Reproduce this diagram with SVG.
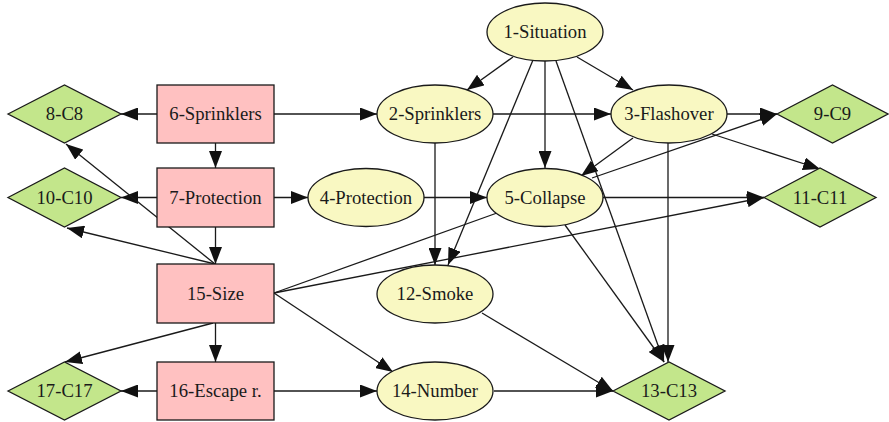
<svg xmlns="http://www.w3.org/2000/svg" width="889" height="422" viewBox="0 0 889 422">
<style>
.rect{fill:#ffc1c1;stroke:#1a1a1a;stroke-width:1.3}
.ell{fill:#f9f8c2;stroke:#1a1a1a;stroke-width:1.3}
.dia{fill:#c3e68b;stroke:#1a1a1a;stroke-width:1.3}
.t{font-size:18.7px;fill:#1a1a1a;text-anchor:middle}
.e{stroke:#1a1a1a;stroke-width:1.3;fill:none}
.a{marker-end:url(#ah)}
</style>
<defs>
<marker id="ah" viewBox="0 0 17 13" refX="17" refY="6.5" markerWidth="17" markerHeight="13" markerUnits="userSpaceOnUse" orient="auto">
<path d="M0,0 L17,6.5 L0,13 z" fill="#111"/>
</marker>
</defs>
<rect width="889" height="422" fill="#fff"/>
<g id="edges">
<line class="e a" x1="513" y1="57" x2="467" y2="90"/>
<line class="e a" x1="577" y1="57" x2="633" y2="90"/>
<line class="e a" x1="545" y1="61" x2="545" y2="168"/>
<line class="e a" x1="533" y1="60" x2="448" y2="265"/>
<line class="e a" x1="556" y1="61" x2="664" y2="362"/>
<line class="e a" x1="565" y1="225" x2="664" y2="362"/>
<line class="e a" x1="668" y1="143" x2="668" y2="362"/>
<line class="e a" x1="157" y1="114" x2="121" y2="114"/>
<line class="e a" x1="274" y1="114" x2="377" y2="114"/>
<line class="e a" x1="215.5" y1="143" x2="215.5" y2="168"/>
<line class="e a" x1="493" y1="114" x2="611" y2="114"/>
<line class="e a" x1="435" y1="143" x2="435" y2="265"/>
<line class="e a" x1="727" y1="114" x2="777" y2="114"/>
<line class="e a" x1="712" y1="134" x2="820" y2="169"/>
<line class="e a" x1="633" y1="138" x2="581" y2="176"/>
<line class="e a" x1="592" y1="178" x2="777" y2="114"/>
<line class="e a" x1="603" y1="197.5" x2="764" y2="197.5"/>
<line class="e a" x1="157" y1="197.5" x2="121" y2="197.5"/>
<line class="e a" x1="274" y1="197.5" x2="308" y2="197.5"/>
<line class="e a" x1="215.5" y1="227" x2="215.5" y2="264"/>
<line class="e a" x1="424" y1="197.5" x2="487" y2="197.5"/>
<line class="e a" x1="215" y1="264" x2="66" y2="144"/>
<line class="e a" x1="215" y1="264" x2="67" y2="228"/>
<line class="e a" x1="274" y1="293" x2="764" y2="197.5"/>
<line class="e" x1="274" y1="293" x2="497" y2="213"/>
<line class="e a" x1="274" y1="293" x2="393" y2="372"/>
<line class="e a" x1="215.5" y1="323" x2="215.5" y2="362"/>
<line class="e a" x1="213" y1="323" x2="65" y2="362"/>
<line class="e a" x1="157" y1="391" x2="121" y2="391"/>
<line class="e a" x1="274" y1="391" x2="377" y2="391"/>
<line class="e a" x1="494" y1="391" x2="613" y2="391"/>
<line class="e a" x1="482" y1="313" x2="613" y2="391"/>
</g>
<g font-family="Liberation Serif, DejaVu Serif, serif">
<g id="n1"><ellipse class="ell" cx="545" cy="32" rx="58" ry="29"/><text class="t" x="545" y="38">1-Situation</text></g>
<g id="n2"><ellipse class="ell" cx="435" cy="114" rx="58" ry="29"/><text class="t" x="435" y="120">2-Sprinklers</text></g>
<g id="n3"><ellipse class="ell" cx="669" cy="114" rx="58" ry="29"/><text class="t" x="669" y="120">3-Flashover</text></g>
<g id="n4"><ellipse class="ell" cx="366" cy="197.5" rx="58" ry="29"/><text class="t" x="366" y="203.5">4-Protection</text></g>
<g id="n5"><ellipse class="ell" cx="545" cy="197.5" rx="58" ry="29"/><text class="t" x="545" y="203.5">5-Collapse</text></g>
<g id="n6"><rect class="rect" x="157" y="85" width="117" height="58"/><text class="t" x="215.5" y="120">6-Sprinklers</text></g>
<g id="n7"><rect class="rect" x="157" y="168" width="117" height="59"/><text class="t" x="215.5" y="203.5">7-Protection</text></g>
<g id="n8"><polygon class="dia" points="8,114 64.5,85 121,114 64.5,143"/><text class="t" x="64.5" y="120">8-C8</text></g>
<g id="n9"><polygon class="dia" points="777,114 832.5,85 888,114 832.5,143"/><text class="t" x="832.5" y="120">9-C9</text></g>
<g id="n10"><polygon class="dia" points="8,197.5 64.5,168 121,197.5 64.5,227"/><text class="t" x="64.5" y="203.5">10-C10</text></g>
<g id="n11"><polygon class="dia" points="764,197.5 820,168 876,197.5 820,227"/><text class="t" x="820" y="203.5">11-C11</text></g>
<g id="n12"><ellipse class="ell" cx="435" cy="294" rx="58" ry="29"/><text class="t" x="435" y="300">12-Smoke</text></g>
<g id="n13"><polygon class="dia" points="613,391 669,362 725,391 669,420"/><text class="t" x="669" y="397">13-C13</text></g>
<g id="n14"><ellipse class="ell" cx="435" cy="391" rx="58" ry="29"/><text class="t" x="435" y="397">14-Number</text></g>
<g id="n15"><rect class="rect" x="157" y="264" width="117" height="59"/><text class="t" x="215.5" y="300">15-Size</text></g>
<g id="n16"><rect class="rect" x="157" y="362" width="117" height="58"/><text class="t" x="215.5" y="397">16-Escape r.</text></g>
<g id="n17"><polygon class="dia" points="8,391 64.5,362 121,391 64.5,420"/><text class="t" x="64.5" y="397">17-C17</text></g>
</g>
</svg>
